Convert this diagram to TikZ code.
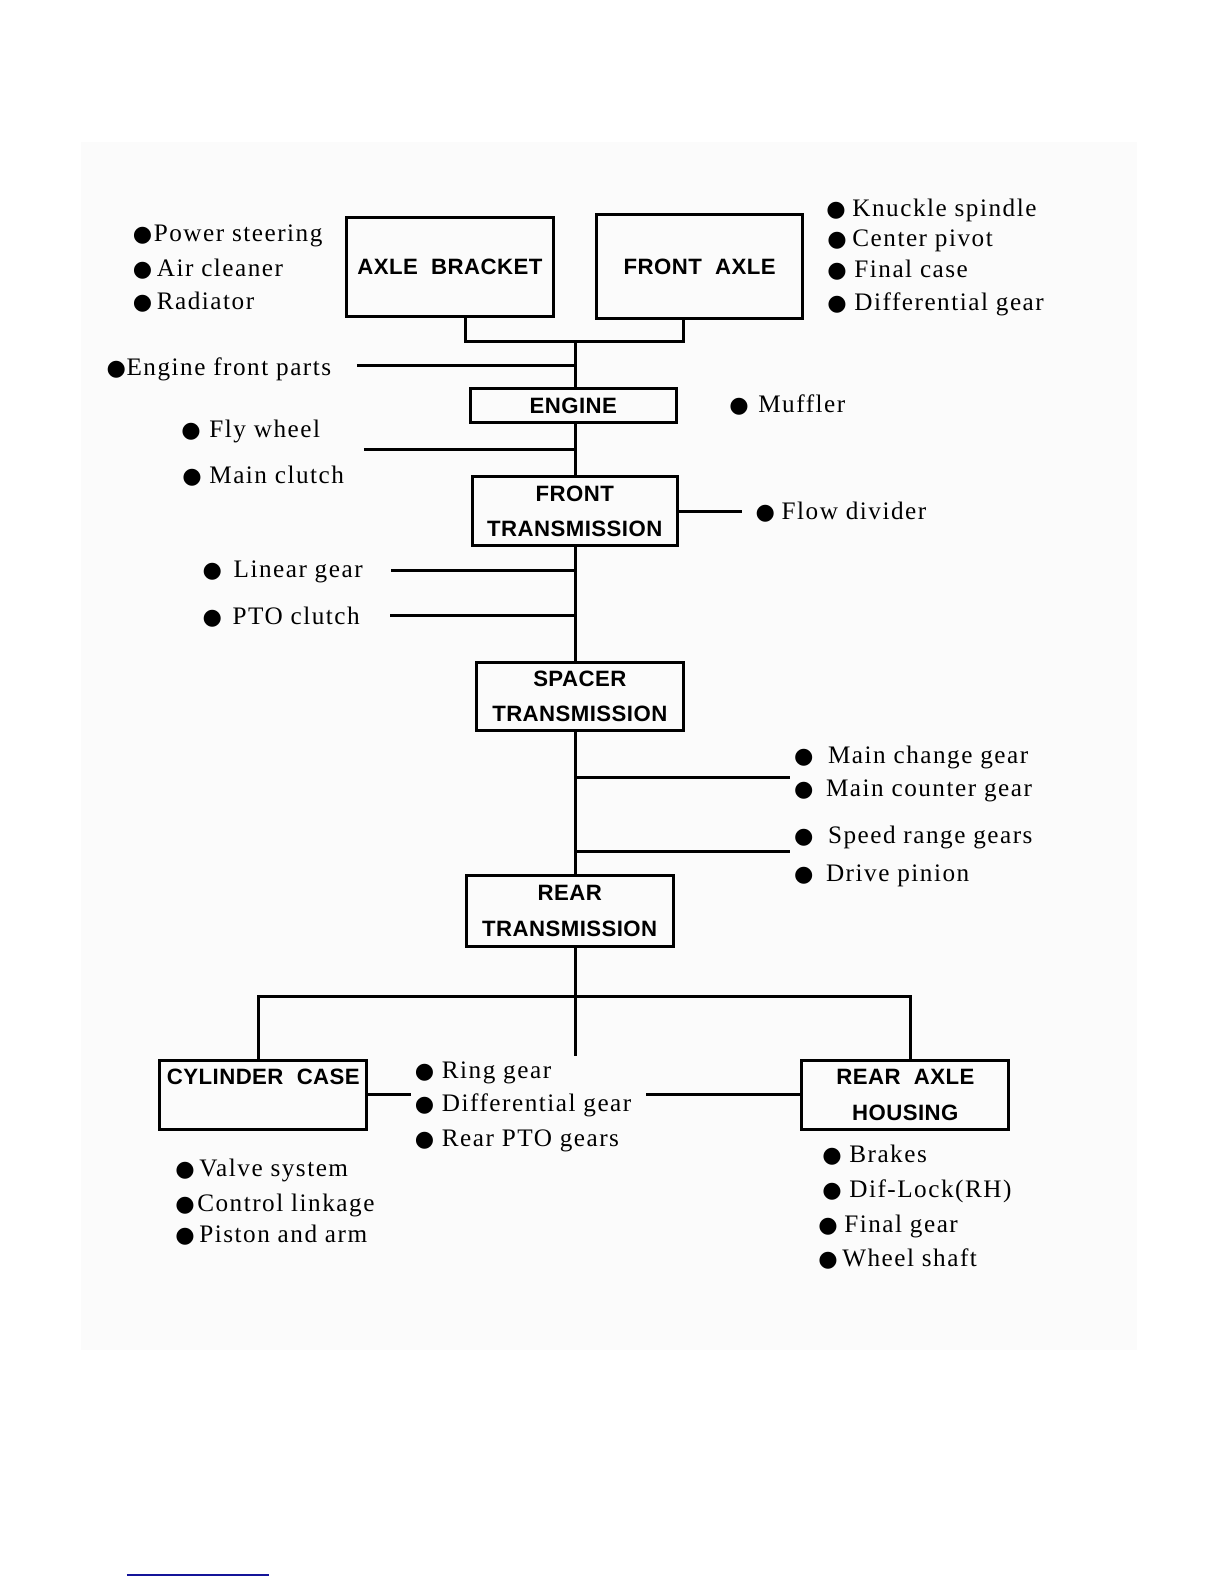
\documentclass[tikz,border=0pt]{standalone}
\usepackage{fontspec}
\setmainfont{Liberation Serif}
\newfontfamily\boxf{Liberation Sans}[LetterSpace=2]
\newfontfamily\labf{Liberation Serif}[LetterSpace=6]
\newfontfamily\symf{DejaVu Sans}
\newcommand\bulmark{{\symf\fontsize{11.1}{11.1}\selectfont ●}}
\newcommand\blab[2]{\makebox[\dimexpr #1pt/2\relax][l]{\bulmark}#2}
\newcommand\wsp{\ \hspace{0.3em}}
\definecolor{bgfaint}{rgb}{0.985,0.985,0.985}
\definecolor{navyline}{rgb}{0.08,0.08,0.6}
\tikzset{
  box/.style={draw, line width=1.5pt, inner sep=0pt, align=center,
    font=\boxf\bfseries\fontsize{11.1}{17.7}\selectfont},
  lab/.style={anchor=mid west, inner sep=0pt, yshift=-1.8pt,
    font=\labf\fontsize{12.6}{15}\selectfont},
  conn/.style={line width=1.5pt},
  bluerule/.style={line width=1pt, navyline}
}
\begin{document}
\begin{tikzpicture}[x=0.5055pt, y=-0.5055pt]
\path[use as bounding box] (0,0) rectangle (1210.7,1566.8);
\fill[bgfaint] (80,140) rectangle (1125,1335);

% boxes (sizes in display px)
\node[box, minimum width=204*0.5055pt, minimum height=98*0.5055pt] (ab) at (445,264) {AXLE\wsp BRACKET};
\node[box, minimum width=204*0.5055pt, minimum height=103*0.5055pt] (fa) at (692,263.5) {FRONT\wsp AXLE};
\node[box, minimum width=204*0.5055pt, minimum height=34*0.5055pt] (eng) at (567,401) {ENGINE};
\node[box, minimum width=203*0.5055pt, minimum height=69*0.5055pt] (ft) at (568.5,505.5) {FRONT\\TRANSMISSION};
\node[box, minimum width=205*0.5055pt, minimum height=68*0.5055pt] (st) at (573.5,689) {SPACER\\TRANSMISSION};
\node[box, minimum width=205*0.5055pt, minimum height=70*0.5055pt] (rt) at (563.5,901) {REAR\\TRANSMISSION};
\node[box, minimum width=205*0.5055pt, minimum height=68*0.5055pt] (cc) at (260.5,1083) {CYLINDER\wsp CASE\\\mbox{}};
\node[box, minimum width=205*0.5055pt, minimum height=68*0.5055pt] (rah) at (895.5,1083) {REAR\wsp AXLE\\HOUSING};

% connectors
\coordinate (bj) at (569,338);
\draw[conn] ([xshift=15*0.5055pt]ab.south) |- (bj) -| ([xshift=-16*0.5055pt]fa.south);
\draw[conn] (bj) -- (bj |- eng.north);
\coordinate (efp) at (353,362);
\draw[conn] (efp) -- (efp -| bj);
\draw[conn] (bj |- eng.south) -- (bj |- ft.north);
\coordinate (fwl) at (360,445);
\draw[conn] (fwl) -- (fwl -| bj);
\coordinate (fdl) at (734,505.5);
\draw[conn] (ft.east) -- (fdl);
\draw[conn] (bj |- ft.south) -- (bj |- st.north);
\coordinate (lgl) at (387,564);
\draw[conn] (lgl) -- (lgl -| bj);
\coordinate (ptl) at (386,609);
\draw[conn] (ptl) -- (ptl -| bj);
\draw[conn] (bj |- st.south) -- (bj |- rt.north);
\coordinate (mcl) at (781,769);
\draw[conn] (mcl -| bj) -- (mcl);
\coordinate (srl) at (781,842);
\draw[conn] (srl -| bj) -- (srl);
\coordinate (rtend) at (569,1045);
\draw[conn] (bj |- rt.south) -- (rtend);
\coordinate (hj) at (569,986);
\draw[conn] ([xshift=-4.5*0.5055pt]cc.north) |- (hj) -| ([xshift=5.5*0.5055pt]rah.north);
\coordinate (ccl) at (407,1083);
\draw[conn] (cc.east) -- (ccl);
\coordinate (rahl) at (639,1083);
\draw[conn] (rahl) -- (rah.west);

% labels top left
\node[lab] (l1) at (131,231) {\blab{21}{Power steering}};
\node[lab] (l2) at (131,265) {\blab{24}{Air cleaner}};
\node[lab] (l3) at (131,298) {\blab{24}{Radiator}};
\node[lab] (l4) at (105,363) {\blab{20}{Engine front parts}};
% top right
\node[lab] (r1) at (817,206) {\blab{26}{Knuckle spindle}};
\node[lab] (r2) at (818,236) {\blab{25}{Center pivot}};
\node[lab] (r3) at (818,266) {\blab{27}{Final case}};
\node[lab] (r4) at (818,299) {\blab{27}{Differential gear}};
% engine area
\node[lab] (m1) at (721,400) {\blab{29}{Muffler}};
\node[lab] (f1) at (179,425) {\blab{28}{Fly wheel}};
\node[lab] (f2) at (180,470) {\blab{27}{Main clutch}};
\node[lab] (fd) at (747,506) {\blab{26}{Flow divider}};
\node[lab] (g1) at (200,563) {\blab{31}{Linear gear}};
\node[lab] (g2) at (200,610) {\blab{30}{PTO clutch}};
% spacer
\node[lab] (s1) at (785,747) {\blab{34}{Main change gear}};
\node[lab] (s2) at (785,780) {\blab{32}{Main counter gear}};
\node[lab] (s3) at (785,826) {\blab{34}{Speed range gears}};
\node[lab] (s4) at (785,864) {\blab{32}{Drive pinion}};
% rear
\node[lab] (c1) at (410,1059) {\blab{27}{Ring gear}};
\node[lab] (c2) at (410,1091) {\blab{27}{Differential gear}};
\node[lab] (c3) at (410,1126) {\blab{27}{Rear PTO gears}};
\node[lab] (v1) at (173,1156) {\blab{24}{Valve system}};
\node[lab] (v2) at (173,1190) {\blab{22}{Control linkage}};
\node[lab] (v3) at (173,1221) {\blab{24}{Piston and arm}};
\node[lab] (h1) at (813,1142) {\blab{27}{Brakes}};
\node[lab] (h2) at (813,1176) {\blab{27}{Dif-Lock(RH)}};
\node[lab] (h3) at (809,1211) {\blab{26}{Final gear}};
\node[lab] (h4) at (809,1245) {\blab{24}{Wheel shaft}};

% bottom rule
\coordinate (bl1) at (125.6,1558);
\coordinate (bl2) at (266,1558);
\draw[bluerule] (bl1) -- (bl2);
\end{tikzpicture}
\end{document}
